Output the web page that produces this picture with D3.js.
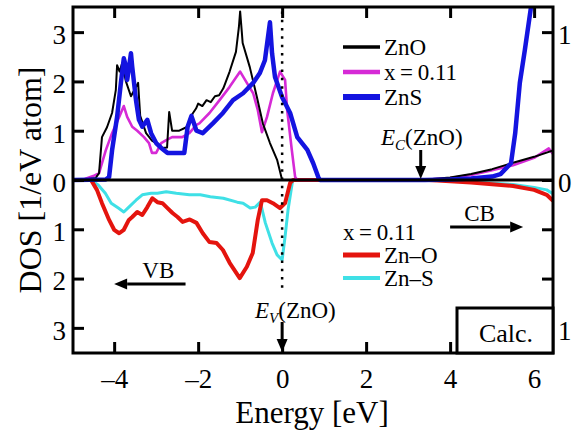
<!DOCTYPE html>
<html>
<head>
<meta charset="utf-8">
<script src="https://cdn.jsdelivr.net/npm/d3@7"></script>
<style>
  html, body { margin: 0; padding: 0; background: #fff; }
  svg { display: block; }
</style>
</head>
<body>
<svg id="chart" width="574" height="433"></svg>
<script>
// Density of states, energies in eV relative to the ZnO valence-band top.
// Upper panel: total DOS per atom; lower panel (drawn downward): partial bonds for x = 0.11.
const energyTicks = [-4, -2, 0, 2, 4, 6];
const dosTicks = [-3, -2, -1, 0, 1, 2, 3];
const rightTicks = [-1, -2 / 3, -1 / 3, 0, 1 / 3, 2 / 3, 1];

const znoDos = [[-4.98,0],[-4.7,0.01],[-4.44,0.04],[-4.36,0.14],[-4.29,0.87],[-4.17,1.07],[-4.05,1.36],[-3.96,1.83],[-3.93,2.33],[-3.87,2.2],[-3.81,2.37],[-3.72,2.0],[-3.6,1.7],[-3.43,1.97],[-3.38,1.3],[-3.24,0.95],[-3.1,0.8],[-3.0,0.75],[-2.85,0.65],[-2.74,0.66],[-2.69,1.38],[-2.62,1.0],[-2.45,1.0],[-2.28,1.07],[-2.2,1.2],[-2.13,1.35],[-2.05,1.45],[-2.0,1.55],[-1.9,1.5],[-1.8,1.62],[-1.7,1.58],[-1.6,1.7],[-1.5,1.72],[-1.4,1.86],[-1.25,2.2],[-1.1,2.6],[-1.03,3.1],[-1.0,3.42],[-0.96,3.0],[-0.94,2.78],[-0.77,2.29],[-0.6,1.68],[-0.46,1.15],[-0.29,0.75],[-0.12,0.41],[-0.03,0.1],[0,0],[3.3,0],[4.0,0.05],[4.5,0.12],[5.0,0.22],[5.5,0.35],[6.0,0.47],[6.45,0.6]];

const mixDos = [[-4.98,0],[-4.7,0.02],[-4.5,0.08],[-4.36,0.14],[-4.2,0.6],[-4.05,0.95],[-3.88,1.28],[-3.77,1.5],[-3.69,1.28],[-3.57,1.08],[-3.45,1.0],[-3.29,0.87],[-3.17,0.75],[-3.1,0.55],[-3.0,0.55],[-2.88,0.75],[-2.76,0.81],[-2.62,0.87],[-2.38,0.87],[-2.21,0.95],[-2.04,1.12],[-1.97,1.15],[-1.73,1.36],[-1.49,1.62],[-1.25,1.89],[-1.0,2.2],[-0.84,1.97],[-0.69,1.76],[-0.58,1.42],[-0.48,0.97],[-0.36,1.28],[-0.22,1.76],[-0.05,2.2],[0.07,2.03],[0.12,1.42],[0.23,0.61],[0.31,0.06],[0.36,0],[3.3,0],[4.0,0.04],[4.5,0.1],[5.0,0.2],[5.5,0.3],[6.0,0.45],[6.35,0.64],[6.45,0.53]];

const znsDos = [[-4.98,0],[-4.2,0.01],[-4.12,0.06],[-4.05,0.6],[-3.93,1.28],[-3.84,1.97],[-3.77,2.47],[-3.72,2.3],[-3.69,2.03],[-3.6,2.57],[-3.57,2.3],[-3.48,1.62],[-3.41,1.22],[-3.33,1.08],[-3.21,1.22],[-3.12,0.95],[-3.0,0.75],[-2.88,0.65],[-2.73,0.55],[-2.52,0.55],[-2.33,0.55],[-2.25,1.08],[-2.16,1.3],[-2.04,1.0],[-1.89,0.95],[-1.65,1.15],[-1.41,1.36],[-1.17,1.62],[-0.93,1.76],[-0.69,1.97],[-0.53,2.17],[-0.41,2.43],[-0.29,3.2],[-0.24,2.57],[-0.17,2.09],[0,1.68],[0.19,1.36],[0.36,0.87],[0.6,0.61],[0.74,0.34],[0.86,0.06],[0.9,0],[3.4,0],[4.0,0.01],[4.5,0.03],[5.0,0.07],[5.2,0.12],[5.45,0.34],[5.55,0.95],[5.66,1.97],[5.78,2.64],[5.95,3.65],[6.05,4.2]];

const znOBond = [[-4.98,0],[-4.55,0],[-4.41,0.2],[-4.29,0.47],[-4.12,0.81],[-4.0,1.01],[-3.88,1.08],[-3.77,1.01],[-3.65,0.81],[-3.57,0.75],[-3.45,0.65],[-3.33,0.71],[-3.21,0.55],[-3.09,0.37],[-2.97,0.45],[-2.85,0.47],[-2.73,0.57],[-2.61,0.67],[-2.49,0.75],[-2.37,0.85],[-2.2,0.8],[-2.04,0.87],[-1.89,1.08],[-1.73,1.26],[-1.56,1.28],[-1.41,1.42],[-1.25,1.68],[-1.01,1.99],[-0.84,1.76],[-0.7,1.48],[-0.58,0.81],[-0.48,0.41],[-0.36,0.41],[-0.22,0.47],[-0.05,0.57],[0.07,0.47],[0.19,0.06],[0.26,0],[3.5,0],[4.5,0.05],[5.5,0.12],[6.0,0.2],[6.3,0.3],[6.45,0.42]];

const znSBond = [[-4.98,0],[-4.55,0],[-4.38,0.1],[-4.21,0.27],[-4.07,0.47],[-3.9,0.57],[-3.77,0.65],[-3.65,0.55],[-3.48,0.41],[-3.33,0.3],[-3.12,0.27],[-2.97,0.27],[-2.76,0.24],[-2.52,0.27],[-2.21,0.3],[-1.95,0.3],[-1.71,0.34],[-1.4,0.37],[-1.07,0.45],[-0.93,0.47],[-0.76,0.57],[-0.64,0.55],[-0.52,0.45],[-0.4,0.87],[-0.24,1.28],[-0.12,1.52],[0,1.62],[0.07,1.15],[0.14,0.61],[0.24,0.06],[0.26,0],[3.5,0],[4.5,0.04],[5.5,0.09],[6.0,0.15],[6.3,0.2],[6.45,0.28]];

const gapZnO = 3.3;

const upperSeries = [
  { name: "ZnO", data: znoDos, color: "#000000", width: 2, legendWidth: 3.5 },
  { name: "x\u2009=\u20090.11", data: mixDos, color: "#d62ad6", width: 2.6, legendWidth: 4.5 },
  { name: "ZnS", data: znsDos, color: "#1414e0", width: 4.5, legendWidth: 6 }
];
const lowerSeries = [
  { name: "Zn\u2013O", data: znOBond, color: "#e4140e", width: 4, legendWidth: 5 },
  { name: "Zn\u2013S", data: znSBond, color: "#3fe0e6", width: 3, legendWidth: 4 }
];

const frame = { left: 73, right: 553, top: 7, bottom: 353 };
const font = "Liberation Serif, Times New Roman, DejaVu Serif, serif";

const x = d3.scaleLinear().domain([-4.98, 6.45]).range([frame.left, frame.right]);
const y = d3.scaleLinear().domain([-3.51, 3.51]).range([frame.bottom, frame.top]);
const yRight = d3.scaleLinear().domain([-3.51 / 3, 3.51 / 3]).range([frame.bottom, frame.top]);

const svg = d3.select("#chart").attr("font-family", font);

svg.append("defs").append("clipPath").attr("id", "plotClip")
  .append("rect")
  .attr("x", frame.left).attr("y", frame.top)
  .attr("width", frame.right - frame.left).attr("height", frame.bottom - frame.top);

const plot = svg.append("g").attr("clip-path", "url(#plotClip)");

const upLine = d3.line().x(d => x(d[0])).y(d => y(d[1]));
const downLine = d3.line().x(d => x(d[0])).y(d => y(-d[1]));

lowerSeries.slice().reverse().forEach(s => {
  plot.append("path").attr("d", downLine(s.data))
    .attr("fill", "none").attr("stroke", s.color).attr("stroke-width", s.width)
    .attr("stroke-linejoin", "round");
});
[upperSeries[1], upperSeries[0], upperSeries[2]].forEach(s => {
  plot.append("path").attr("d", upLine(s.data))
    .attr("fill", "none").attr("stroke", s.color).attr("stroke-width", s.width)
    .attr("stroke-linejoin", "round");
});

// zero line separating the two panels
svg.append("line")
  .attr("x1", frame.left).attr("x2", frame.right)
  .attr("y1", y(0)).attr("y2", y(0))
  .attr("stroke", "#000").attr("stroke-width", 3);

// dotted line at the ZnO valence-band edge
svg.append("line")
  .attr("x1", x(0)).attr("x2", x(0))
  .attr("y1", y(3.42)).attr("y2", y(-2.25))
  .attr("stroke", "#000").attr("stroke-width", 2.5)
  .attr("stroke-dasharray", "2.5,5.8");

// axes with inward ticks
const styleAxis = g => {
  g.attr("font-family", font);
  g.select(".domain").remove();
  g.selectAll(".tick line").attr("stroke", "#000").attr("stroke-width", 3);
  g.selectAll(".tick text").attr("fill", "#000").attr("font-family", font).attr("font-size", 27);
};
const fmtEnergy = d => (d < 0 ? "\u2013" + Math.abs(d) : String(d));

svg.append("g").attr("transform", `translate(0,${frame.bottom})`)
  .call(d3.axisBottom(x).tickValues(energyTicks).tickSize(-11).tickPadding(16).tickFormat(fmtEnergy))
  .call(styleAxis);
svg.append("g").attr("transform", `translate(0,${frame.top})`)
  .call(d3.axisTop(x).tickValues(energyTicks).tickSize(-11).tickFormat(""))
  .call(styleAxis);
svg.append("g").attr("transform", `translate(${frame.left},0)`)
  .call(d3.axisLeft(y).tickValues(dosTicks).tickSize(-11).tickPadding(7).tickFormat(d => Math.abs(d)))
  .call(styleAxis)
  .call(g => g.selectAll(".tick text").attr("dy", "0.42em"));
svg.append("g").attr("transform", `translate(${frame.right},0)`)
  .call(d3.axisRight(yRight).tickValues(rightTicks).tickSize(-11).tickPadding(5)
    .tickFormat(d => (Math.abs(d) === 1 || d === 0 ? Math.abs(d) : "")))
  .call(styleAxis)
  .call(g => g.selectAll(".tick text").attr("dy", "0.42em"));

// plot frame
svg.append("rect")
  .attr("x", frame.left).attr("y", frame.top)
  .attr("width", frame.right - frame.left).attr("height", frame.bottom - frame.top)
  .attr("fill", "none").attr("stroke", "#000").attr("stroke-width", 3);

// "Calc." box in the lower right corner
svg.append("rect")
  .attr("x", 457).attr("y", 308)
  .attr("width", frame.right - 457).attr("height", frame.bottom - 308)
  .attr("fill", "#fff").attr("stroke", "#000").attr("stroke-width", 3);
svg.append("text").attr("x", 506).attr("y", 342)
  .attr("text-anchor", "middle").attr("font-size", 26).text("Calc.");

// arrows
function arrow(x1, y1, x2, y2, head = 13, half = 5.5) {
  const ang = Math.atan2(y2 - y1, x2 - x1);
  const bx = x2 - head * Math.cos(ang), by = y2 - head * Math.sin(ang);
  svg.append("line").attr("x1", x1).attr("y1", y1).attr("x2", bx).attr("y2", by)
    .attr("stroke", "#000").attr("stroke-width", 3);
  const px = -Math.sin(ang) * half, py = Math.cos(ang) * half;
  svg.append("path")
    .attr("d", `M${x2},${y2}L${bx + px},${by + py}L${bx - px},${by - py}Z`)
    .attr("fill", "#000");
}
arrow(x(0), 322, x(0), frame.bottom - 1);
arrow(x(gapZnO), 150, x(gapZnO), y(0) - 1);
arrow(x(-2.3), 284, x(-4.0), 284);
arrow(x(4.0), 227, x(5.74), 227);

svg.append("text").attr("x", x(-2.95)).attr("y", 278).attr("text-anchor", "middle")
  .attr("font-size", 23).text("VB");
svg.append("text").attr("x", x(4.7)).attr("y", 221).attr("text-anchor", "middle")
  .attr("font-size", 23).text("CB");

function edgeLabel(x0, baseline, sub) {
  const t = svg.append("text").attr("x", x0).attr("y", baseline).attr("font-size", 23);
  t.append("tspan").attr("font-style", "italic").text("E");
  t.append("tspan").attr("font-style", "italic").attr("font-size", 15).attr("dy", 5).text(sub);
  t.append("tspan").attr("dy", -5).text("(ZnO)");
}
edgeLabel(255, 318, "V");
edgeLabel(381, 145, "C");

// legends
function legend(items, top, step) {
  items.forEach((s, i) => {
    const ly = top + i * step;
    svg.append("line").attr("x1", 343).attr("x2", 380).attr("y1", ly).attr("y2", ly)
      .attr("stroke", s.color).attr("stroke-width", s.legendWidth);
    svg.append("text").attr("x", 384).attr("y", ly).attr("dy", "0.35em")
      .attr("font-size", 23).text(s.name);
  });
}
legend(upperSeries, 47, 25);
svg.append("text").attr("x", 343).attr("y", 232).attr("dy", "0.35em")
  .attr("font-size", 23).text("x\u2009=\u20090.11");
legend(lowerSeries, 255, 23);

// axis titles
svg.append("text").attr("x", 312).attr("y", 423).attr("text-anchor", "middle")
  .attr("font-size", 31).text("Energy [eV]");
svg.append("text").attr("transform", "translate(41,180) rotate(-90)")
  .attr("text-anchor", "middle").attr("font-size", 32).text("DOS [1/eV atom]");
</script>
</body>
</html>
